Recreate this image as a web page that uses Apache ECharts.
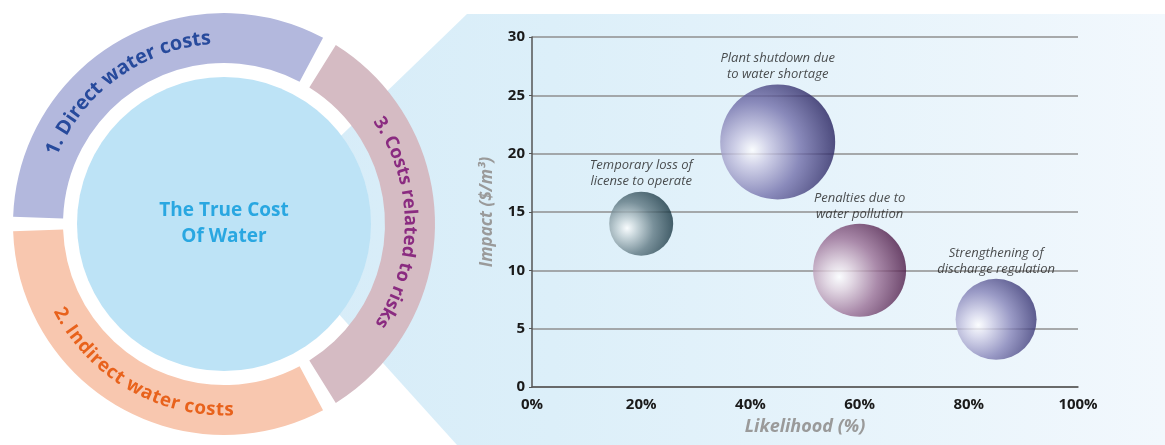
<!DOCTYPE html>
<html><head><meta charset="utf-8">
<script src="https://cdn.jsdelivr.net/npm/echarts@6/dist/echarts.min.js"></script>
<style>html,body{margin:0;padding:0;background:#fff}#c{width:1165px;height:445px}</style>
</head><body><div id="c"></div>
<script>
// ---- data ----
const riskNames = ['Temporary loss of\nlicense to operate', 'Plant shutdown due\nto water shortage', 'Penalties due to\nwater pollution', 'Strengthening of\ndischarge regulation'];
const likelihood = [20, 45, 60, 85];        // %
const impact = [14, 21, 10, 5.8];          // $/m3
const bubbleSize = [64, 115, 93, 81];      // relative bubble size
const xTicks = [0, 20, 40, 60, 80, 100];
const yTicks = [0, 5, 10, 15, 20, 25, 30];
const ringLabels = ['1. Direct water costs', '3. Costs related to risks', '2. Indirect water costs'];
const ringValues = [1, 1, 1];
const centerTitle = 'The True Cost\nOf Water';

// ---- styling ----
const bubbleLight = ['#c3d0d4', '#cac8e3', '#e0d0dd', '#d5d4ea'];
const bubbleMid = ['#5f7882', '#7370ab', '#9a6f95', '#8583b8'];
const bubbleDark = ['#163440', '#241f5c', '#4a1744', '#343170'];
const ringColors = ['#b3b8dd', '#d5bbc3', '#f8c7af'];
const ringTextColors = ['#274a9c', '#8a2b80', '#e8621c'];

const CX = 224, CY = 224, RIN = 161, ROUT = 211;

function arcText(text, r, centerDeg, spanDeg, clockwise, topsOut, weight, family, color) {
  const ctx = document.createElement('canvas').getContext('2d');
  const chars = [...text];
  ctx.font = weight + ' 17px ' + family;
  const nat = chars.reduce((a, ch) => a + ctx.measureText(ch).width, 0);
  const arcLen = spanDeg * Math.PI / 180 * r;
  const size = Math.max(15, Math.min(21, 17 * arcLen / nat * 0.97));
  const font = weight + ' ' + size.toFixed(1) + 'px ' + family;
  ctx.font = font;
  const widths = chars.map(ch => ctx.measureText(ch).width);
  const total = widths.reduce((a, b) => a + b, 0);
  const k = arcLen / total;
  const startDeg = clockwise ? centerDeg + spanDeg / 2 : centerDeg - spanDeg / 2;
  const els = [];
  let acc = 0;
  chars.forEach((ch, i) => {
    const mid = (acc + widths[i] / 2) * k;
    acc += widths[i];
    const d = mid / r;
    const th = startDeg * Math.PI / 180 + (clockwise ? -d : d);
    const x = CX + r * Math.cos(th), y = CY - r * Math.sin(th);
    const rot = topsOut ? th - Math.PI / 2 : th + Math.PI / 2;
    els.push({
      type: 'text', x: x, y: y, rotation: rot, z: 30, silent: true,
      style: { text: ch, font: font, fill: color, align: 'center', verticalAlign: 'middle', textAlign: 'center', textVerticalAlign: 'middle' }
    });
  });
  return els;
}

const FAM = "'Open Sans'";
const graphicEls = [
  {
    type: 'polygon', z: -10, silent: true,
    shape: { points: [[290, 185], [467, 14], [1165, 14], [1165, 445], [457, 445], [290, 260]] },
    style: { fill: new echarts.graphic.LinearGradient(0, 0, 1, 0, [
      { offset: 0, color: '#d6ecf8' }, { offset: 0.3, color: '#dceff9' }, { offset: 1, color: '#f2f8fd' }]) }
  }
].concat(
  arcText(ringLabels[0], 186, 126, 64, true, true, 'bold', FAM, ringTextColors[0]),
  arcText(ringLabels[1], 186, 0.5, 68, true, true, 'bold', FAM, ringTextColors[1]),
  arcText(ringLabels[2], 186, 240, 66, false, false, 'bold', FAM, ringTextColors[2])
);

const scatterData = riskNames.map((n, i) => ({
  name: n,
  value: [likelihood[i], impact[i], bubbleSize[i]],
  itemStyle: {
    color: {
      type: 'radial', x: 0.28, y: 0.57, r: 0.74,
      colorStops: [
        { offset: 0, color: '#ffffff' },
        { offset: 0.2, color: bubbleLight[i] },
        { offset: 0.56, color: bubbleMid[i] },
        { offset: 1, color: bubbleDark[i] }
      ]
    }
  }
}));

const chart = echarts.init(document.getElementById('c'));
chart.setOption({
  backgroundColor: '#ffffff',
  animation: false,
  graphic: { elements: graphicEls },
  grid: { left: 532, right: 87, top: 37, bottom: 58 },
  xAxis: {
    type: 'value', min: xTicks[0], max: xTicks[xTicks.length - 1], interval: xTicks[1] - xTicks[0],
    name: 'Likelihood (%)', nameLocation: 'middle', nameGap: 31,
    nameTextStyle: { fontFamily: 'Open Sans', fontStyle: 'italic', fontWeight: 'bold', fontSize: 18, color: '#9a9a9a' },
    axisLine: { show: true, lineStyle: { color: '#555', width: 1.5 } },
    axisTick: { show: false },
    splitLine: { show: false },
    axisLabel: { formatter: '{value}%', margin: 10, fontFamily: 'Open Sans', fontWeight: 'bold', fontSize: 15, color: '#1a1a1a' }
  },
  yAxis: {
    type: 'value', min: yTicks[0], max: yTicks[yTicks.length - 1], interval: yTicks[1] - yTicks[0],
    name: 'Impact ($/m³)', nameLocation: 'middle', nameGap: 36, nameRotate: 90,
    nameTextStyle: { fontFamily: 'Open Sans', fontStyle: 'italic', fontWeight: 'bold', fontSize: 17, color: '#9a9a9a' },
    axisLine: { show: true, lineStyle: { color: '#555', width: 1.5 } },
    axisTick: { show: true, length: 3, lineStyle: { color: '#555' } },
    splitLine: { show: true, lineStyle: { color: '#8f8f8f', width: 1.5 } },
    axisLabel: { margin: 7, fontFamily: 'Open Sans', fontWeight: 'bold', fontSize: 15, color: '#1a1a1a' }
  },
  series: [
    {
      type: 'pie', center: [CX, CY], radius: [RIN, ROUT], startAngle: 180, clockwise: true,
      padAngle: 4, silent: true, label: { show: false }, labelLine: { show: false }, z: 5,
      data: ringLabels.map((n, i) => ({ name: n, value: ringValues[i], itemStyle: { color: ringColors[i] } }))
    },
    {
      type: 'pie', center: [CX, CY], radius: [0, 147], silent: true, z: 5,
      label: { show: true, position: 'center', formatter: '{b}', fontFamily: 'Open Sans', fontWeight: 'bold', fontSize: 19, lineHeight: 26, color: '#29a7e1' },
      labelLine: { show: false },
      data: [{ name: centerTitle, value: 1, itemStyle: { color: '#bde3f6' } }]
    },
    {
      type: 'scatter', z: 10,
      symbolSize: v => v[2],
      label: { show: true, position: 'top', distance: 2, formatter: '{b}', fontFamily: 'Open Sans', fontStyle: 'italic', fontSize: 13, lineHeight: 16, color: '#222222' },
      emphasis: { disabled: true },
      data: scatterData
    }
  ]
});
</script></body></html>
